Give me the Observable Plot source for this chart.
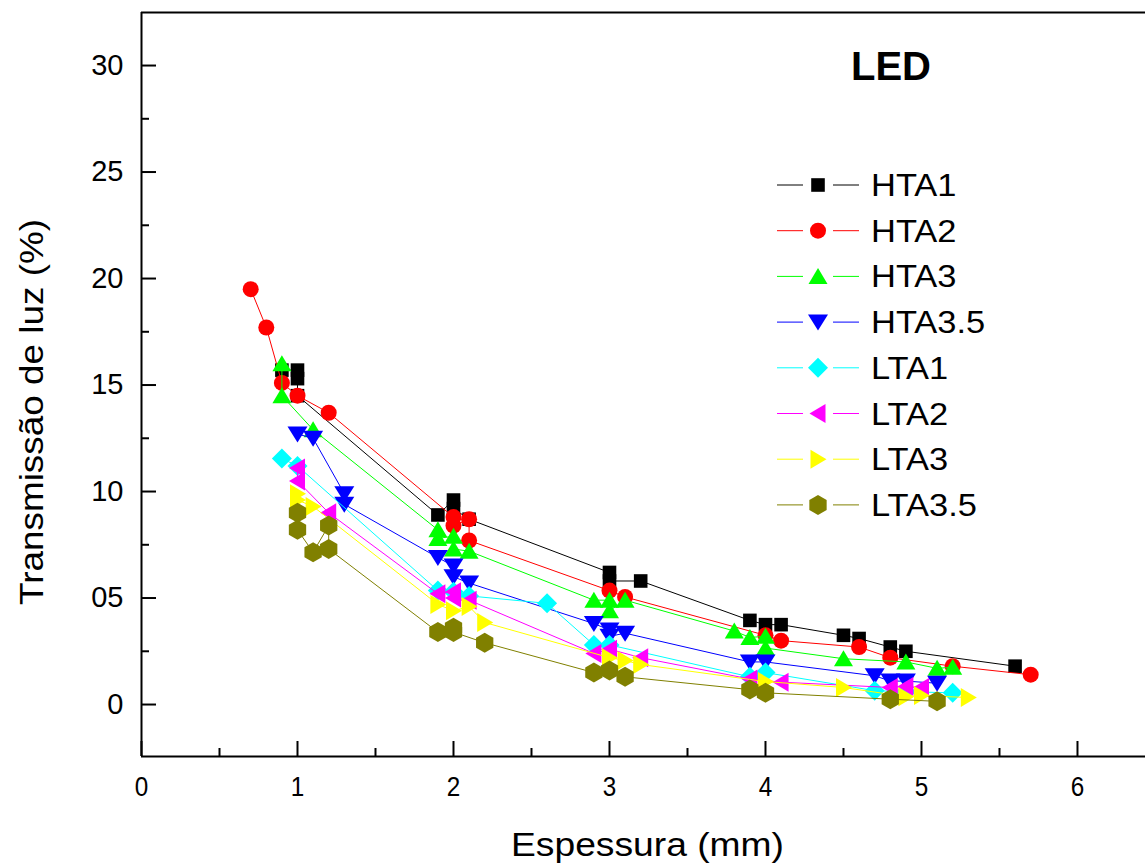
<!DOCTYPE html>
<html><head><meta charset="utf-8">
<script src="https://cdn.jsdelivr.net/npm/d3@7"></script>
<script src="https://cdn.jsdelivr.net/npm/@observablehq/plot@0.6"></script>
<style>
body{margin:0;background:#fff;}
#wrap{position:relative;width:1145px;height:863px;}
</style></head><body><div id="wrap"></div>
<script>
// ---- data ----
const seriesNames = ["HTA1","HTA2","HTA3","HTA3.5","LTA1","LTA2","LTA3","LTA3.5"];
const seriesColors = ["#000000","#ff0000","#00ff00","#0000ff","#00ffff","#ff00ff","#ffff00","#808000"];

const hta1X = [0.9,1.0,1.0,1.0,1.9,2.0,2.0,2.1,3.0,3.0,3.2,3.9,4.0,4.1,4.5,4.6,4.8,4.9,5.6];
const hta1Y = [15.7,15.7,15.3,14.5,8.9,9.6,9.2,8.7,6.2,5.8,5.8,3.95,3.75,3.75,3.25,3.1,2.7,2.5,1.8];
const hta2X = [0.7,0.8,0.9,1.0,1.2,2.0,2.0,2.1,2.1,3.0,3.1,4.0,4.1,4.6,4.8,5.2,5.7];
const hta2Y = [19.5,17.7,15.1,14.5,13.7,8.8,8.4,8.7,7.7,5.35,5.05,3.25,3.0,2.7,2.2,1.8,1.4];
const hta3X = [0.9,0.9,1.1,1.9,1.9,2.0,2.0,2.1,2.9,3.0,3.0,3.1,3.8,3.9,4.0,4.0,4.5,4.9,5.1,5.2];
const hta3Y = [16.0,14.5,12.9,8.2,7.8,7.9,7.3,7.2,4.9,4.9,4.4,4.9,3.45,3.15,3.2,2.65,2.15,2.0,1.7,1.75];
const hta35X = [1.0,1.1,1.3,1.3,1.9,2.0,2.0,2.1,2.9,3.0,3.0,3.1,3.9,4.0,4.7,4.8,4.9,5.1];
const hta35Y = [12.7,12.5,9.9,9.4,6.9,6.5,6.0,5.7,3.8,3.5,3.2,3.35,2.0,2.0,1.35,1.1,1.1,1.0];
const lta1X = [0.9,1.0,1.9,2.0,2.1,2.6,2.9,3.0,3.9,4.0,4.7,4.9,5.2];
const lta1Y = [11.55,11.2,5.35,5.3,5.1,4.75,2.8,2.8,1.3,1.5,0.65,0.6,0.55];
const lta2X = [1.0,1.0,1.2,1.9,2.0,2.0,2.1,2.9,3.0,3.2,3.9,4.1,4.8,4.9,5.0];
const lta2Y = [11.1,10.5,9.0,5.2,5.3,5.0,4.9,2.4,2.6,2.2,1.2,1.05,0.8,0.85,0.8];
const lta3X = [1.0,1.0,1.1,1.9,2.0,2.1,2.2,3.0,3.1,3.2,4.0,4.5,4.9,5.0,5.3];
const lta3Y = [9.9,9.6,9.3,4.7,4.4,4.6,3.85,2.2,2.07,1.88,1.08,0.8,0.37,0.42,0.33];
const lta35X = [1.0,1.0,1.1,1.2,1.2,1.9,2.0,2.0,2.2,2.9,3.0,3.1,3.9,4.0,4.8,5.1];
const lta35Y = [9.0,8.2,7.15,8.4,7.3,3.4,3.6,3.4,2.9,1.5,1.6,1.3,0.7,0.55,0.25,0.15];

const xTicks = [0,1,2,3,4,5,6];
const xTickLabels = ["0","1","2","3","4","5","6"];
const xMinor = [0.5,1.5,2.5,3.5,4.5,5.5];
const yTicks = [0,5,10,15,20,25,30];
const yTickLabels = ["0","05","10","15","20","25","30"];
const yMinor = [2.5,7.5,12.5,17.5,22.5,27.5];
const xDomain = [0, 6.436];
const yDomain = [-2.44, 32.49];

const xTitle = "Espessura (mm)";
const yTitle = "Transmissão de luz (%)";
const chartTitle = "LED";

// ---- symbols ----
function poly(pts){
  return {draw(ctx, size){
    const k = Math.sqrt(size/Math.PI)/7.5;
    ctx.moveTo(pts[0][0]*k, pts[0][1]*k);
    for (let i=1;i<pts.length;i++) ctx.lineTo(pts[i][0]*k, pts[i][1]*k);
    ctx.closePath();
  }};
}
const symSquare = poly([[-6.8,-6.8],[6.8,-6.8],[6.8,6.8],[-6.8,6.8]]);
const symCircle = {draw(ctx,size){const k=Math.sqrt(size/Math.PI)/7.5;const r=8*k;ctx.moveTo(r,0);ctx.arc(0,0,r,0,2*Math.PI);}};
const symUp = poly([[0,-8.5],[9.5,7.5],[-9.5,7.5]]);
const symDown = poly([[0,8.5],[10,-7.5],[-10,-7.5]]);
const symLeft = poly([[-8.5,0],[7.5,-9.5],[7.5,9.5]]);
const symRight = poly([[8.5,0],[-7.5,-9.5],[-7.5,9.5]]);
const symDiamond = poly([[0,-10],[10,0],[0,10],[-10,0]]);
const symHex = poly([[0,-10],[8.66,-5],[8.66,5],[0,10],[-8.66,5],[-8.66,-5]]);
const seriesSymbols = [symSquare,symCircle,symUp,symDown,symDiamond,symLeft,symRight,symHex];

const seriesX = [hta1X,hta2X,hta3X,hta35X,lta1X,lta2X,lta3X,lta35X];
const seriesY = [hta1Y,hta2Y,hta3Y,hta35Y,lta1Y,lta2Y,lta3Y,lta35Y];

const marks = [];
seriesNames.forEach((name,i)=>{
  const data = seriesX[i].map((v,j)=>({x:v,y:seriesY[i][j]}));
  marks.push(Plot.line(data,{x:"x",y:"y",stroke:seriesColors[i],strokeWidth:1}));
  marks.push(Plot.dot(data,{x:"x",y:"y",symbol:seriesSymbols[i],r:7.5,fill:seriesColors[i],stroke:"none"}));
});

const axes = [
  Plot.ruleX([xDomain[0]],{stroke:"#000",strokeWidth:2}),
  Plot.ruleY([yDomain[0]],{stroke:"#000",strokeWidth:2}),
  Plot.ruleY([yDomain[1]],{stroke:"#000",strokeWidth:2}),
  Plot.axisX(xTicks,{tickSize:-15,tickFormat:()=>"",strokeWidth:2,label:null}),
  Plot.axisX(xMinor,{tickSize:-8,tickFormat:()=>"",strokeWidth:2,label:null}),
  Plot.axisX(xTicks,{tickSize:0,tickPadding:20,fontSize:27,tickFormat:d=>xTickLabels[xTicks.indexOf(d)],label:null}),
  Plot.axisY(yTicks,{tickSize:-15,tickFormat:()=>"",strokeWidth:2,label:null}),
  Plot.axisY(yMinor,{tickSize:-8,tickFormat:()=>"",strokeWidth:2,label:null}),
  Plot.axisY(yTicks,{tickSize:0,tickPadding:18,fontSize:29,tickFormat:d=>yTickLabels[yTicks.indexOf(d)],label:null})
];

const plot = Plot.plot({
  width:1145, height:863,
  marginLeft:141, marginRight:0, marginTop:12, marginBottom:107,
  x:{domain:xDomain},
  y:{domain:yDomain},
  style:{fontFamily:"'Liberation Sans', Arial, sans-serif", background:"#fff", color:"#000"},
  marks:[...marks, ...axes]
});
document.getElementById("wrap").appendChild(plot);

const svg = d3.select(plot);
svg.selectAll('g[aria-label="x-axis tick label"] text').each(function(){
  if (this.textContent) { const t=this.getAttribute("transform")||""; this.setAttribute("transform", t+" scale(0.9,1)"); }
});

const font = "'Liberation Sans', Arial, sans-serif";
svg.append("text").text(xTitle)
  .attr("x",511).attr("y",856).attr("text-anchor","start").attr("font-size",33).attr("font-family",font)
  .attr("textLength",273).attr("lengthAdjust","spacingAndGlyphs").attr("fill","#000");
svg.append("text").text(yTitle)
  .attr("transform","translate(43,605) rotate(-90)").attr("text-anchor","start").attr("font-size",33).attr("font-family",font)
  .attr("textLength",386).attr("lengthAdjust","spacingAndGlyphs").attr("fill","#000");
svg.append("text").text(chartTitle)
  .attr("x",891).attr("y",80).attr("text-anchor","middle").attr("font-size",40).attr("font-weight","bold")
  .attr("font-family",font).attr("fill","#000");

// legend
const lg = svg.append("g");
seriesNames.forEach((name,i)=>{
  const cy = 185 + i*45.7;
  const g = lg.append("g").attr("transform",`translate(0,${cy})`);
  g.append("line").attr("x1",777).attr("x2",803).attr("y1",0).attr("y2",0).attr("stroke",seriesColors[i]).attr("stroke-width",1);
  g.append("line").attr("x1",833).attr("x2",859).attr("y1",0).attr("y2",0).attr("stroke",seriesColors[i]).attr("stroke-width",1);
  g.append("path").attr("transform","translate(818,0)")
    .attr("d", d3.symbol(seriesSymbols[i], Math.PI*7.5*7.5)()).attr("fill",seriesColors[i]);
  g.append("text").text(name).attr("transform","translate(871,11) scale(1.13,1)").attr("text-anchor","start")
    .attr("font-size",30.5).attr("font-family",font).attr("fill","#000");
});
</script>
</body></html>
